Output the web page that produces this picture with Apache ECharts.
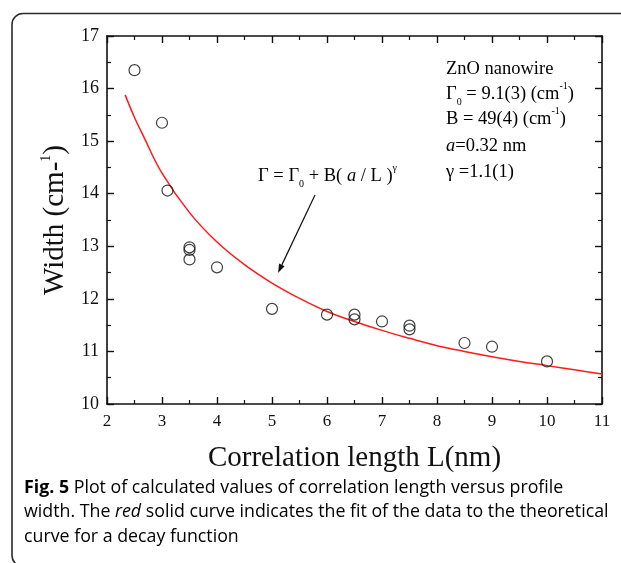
<!DOCTYPE html>
<html>
<head>
<meta charset="utf-8">
<script src="https://cdn.jsdelivr.net/npm/echarts@6/dist/echarts.min.js"></script>
<style>
  html, body { margin: 0; padding: 0; background: #fff; }
  #chart { width: 621px; height: 563px; }
</style>
</head>
<body>
<div id="chart"></div>
<script>
// Measured profile widths versus correlation length
const lengthL = [2.5, 3.0, 3.1, 3.5, 3.5, 3.5, 4.0, 5.0, 6.0, 6.5, 6.5, 7.0, 7.5, 7.5, 8.5, 9.0, 10.0];
const widthW  = [16.35, 15.35, 14.06, 12.98, 12.93, 12.75, 12.60, 11.81, 11.70, 11.70, 11.61, 11.57, 11.49, 11.42, 11.16, 11.09, 10.81];

// Fitted decay curve
const fitL = [2.33, 2.5, 2.66, 3.0, 3.5, 4.0, 4.5, 5.0, 5.5, 6.0, 6.5, 7.0, 7.5, 8.0, 8.5, 9.0, 9.5, 10.0, 10.5, 11.0];
const fitW = [15.88, 15.45, 15.10, 14.39, 13.64, 13.08, 12.65, 12.30, 12.01, 11.76, 11.57, 11.40, 11.25, 11.11, 11.00, 10.90, 10.81, 10.73, 10.65, 10.57];

const xTicks = [2, 3, 4, 5, 6, 7, 8, 9, 10, 11];
const yTicks = [10, 11, 12, 13, 14, 15, 16, 17];

const SERIF = '"Liberation Serif", "Times New Roman", serif';
const SANS = '"Open Sans", "Noto Sans", sans-serif';

const chart = echarts.init(document.getElementById('chart'), null, { renderer: 'canvas' });

const axisLine = { show: true, lineStyle: { color: '#111', width: 1.6 } };
const majorTick = { show: true, inside: true, length: 7, lineStyle: { color: '#111', width: 1.4 } };
const minorTick = { show: true, inside: true, length: 4, splitNumber: 2, lineStyle: { color: '#111', width: 1.2 } };

// serif rich-text styles for annotations (sub/superscripts)
const richBase = {
  n: { fontFamily: SERIF, fontSize: 18.5, color: '#111', lineHeight: 26, verticalAlign: 'middle' },
  i: { fontFamily: SERIF, fontSize: 18.5, fontStyle: 'italic', color: '#111', lineHeight: 26, verticalAlign: 'middle' },
  sub: { fontFamily: SERIF, fontSize: 10, color: '#111', lineHeight: 10, verticalAlign: 'bottom' },
  sup: { fontFamily: SERIF, fontSize: 10, color: '#111', lineHeight: 10, verticalAlign: 'top' }
};

function label(text, x, y) {
  return {
    type: 'text', x: x, y: y, z: 10,
    style: { text: text, rich: richBase, verticalAlign: 'middle', align: 'left' }
  };
}

// arrow from the formula toward the curve
function arrow(x1, y1, x2, y2) {
  const dx = x2 - x1, dy = y2 - y1;
  const len = Math.sqrt(dx * dx + dy * dy);
  const ux = dx / len, uy = dy / len;
  const hl = 9, hw = 3;
  const bx = x2 - ux * hl, by = y2 - uy * hl;
  return {
    type: 'group', z: 10,
    children: [
      { type: 'line', shape: { x1: x1, y1: y1, x2: bx, y2: by }, style: { stroke: '#111', lineWidth: 1.2 } },
      { type: 'polygon', shape: { points: [[x2, y2], [bx - uy * hw, by + ux * hw], [bx + uy * hw, by - ux * hw]] },
        style: { fill: '#111' } }
    ]
  };
}

const captionRich = {
  b: { fontFamily: SANS, fontSize: 17.8, fontWeight: 'bold', color: '#231f20' },
  r: { fontFamily: SANS, fontSize: 17.8, color: '#231f20' },
  it: { fontFamily: SANS, fontSize: 17.8, fontStyle: 'italic', color: '#231f20' }
};

function caption(text, y) {
  return { type: 'text', x: 24, y: y, z: 10,
    style: { text: text, rich: captionRich, verticalAlign: 'middle', align: 'left' } };
}

const option = {
  backgroundColor: '#ffffff',
  animation: false,
  grid: { left: 107, right: 19, top: 36, bottom: 159, containLabel: false },
  xAxis: [
    {
      type: 'value', min: 2, max: 11, interval: 1, position: 'bottom',
      axisLine: axisLine, axisTick: majorTick, minorTick: minorTick,
      splitLine: { show: false },
      axisLabel: { show: true, margin: 9, fontFamily: SERIF, fontSize: 17, color: '#111',
        formatter: v => (xTicks.indexOf(v) >= 0 ? String(v) : '') },
      name: 'Correlation length L(nm)', nameLocation: 'middle', nameGap: 40,
      nameTextStyle: { fontFamily: SERIF, fontSize: 29, color: '#111' }
    },
    {
      type: 'value', min: 2, max: 11, interval: 1, position: 'top',
      axisLine: axisLine, axisTick: majorTick, minorTick: minorTick,
      splitLine: { show: false }, axisLabel: { show: false }
    }
  ],
  yAxis: [
    {
      type: 'value', min: 10, max: 17, interval: 1, position: 'left',
      axisLine: axisLine, axisTick: majorTick, minorTick: minorTick,
      splitLine: { show: false },
      axisLabel: { show: true, margin: 8, fontFamily: SERIF, fontSize: 18, color: '#111',
        formatter: v => (yTicks.indexOf(v) >= 0 ? String(v) : '') },
      name: '{a|Width (cm-}{s|1}{a|)}', nameLocation: 'middle', nameGap: 36, nameRotate: 90,
      nameTextStyle: {
        rich: {
          a: { fontFamily: SERIF, fontSize: 29, color: '#111', lineHeight: 32, verticalAlign: 'middle' },
          s: { fontFamily: SERIF, fontSize: 14, color: '#111', lineHeight: 4, verticalAlign: 'top' }
        }
      }
    },
    {
      type: 'value', min: 10, max: 17, interval: 1, position: 'right',
      axisLine: axisLine, axisTick: majorTick, minorTick: minorTick,
      splitLine: { show: false }, axisLabel: { show: false }
    }
  ],
  series: [
    {
      type: 'line', name: 'fit', xAxisIndex: 0, yAxisIndex: 0,
      data: fitL.map((l, k) => [l, fitW[k]]),
      smooth: 0.4, showSymbol: false, symbol: 'none',
      lineStyle: { color: '#ff1a1a', width: 1.5 }, z: 2
    },
    {
      type: 'scatter', name: 'data', xAxisIndex: 0, yAxisIndex: 0,
      data: lengthL.map((l, k) => [l, widthW[k]]),
      symbol: 'circle', symbolSize: 11,
      itemStyle: { color: 'rgba(255,255,255,0)', borderColor: '#111', borderWidth: 1.2 }, z: 3
    }
  ],
  graphic: [
    // rounded outer frame
    { type: 'rect', z: 0, shape: { x: 12, y: 13.5, width: 800, height: 553, r: 11 },
      style: { fill: 'none', stroke: '#2b2b2b', lineWidth: 1.6 } },
    label('{n|ZnO nanowire}', 446, 69),
    label('{n|Γ}{sub|0}{n| = 9.1(3) (cm}{sup|-1}{n|)}', 446, 94),
    label('{n|B = 49(4) (cm}{sup|-1}{n|)}', 446, 119),
    label('{i|a}{n|=0.32 nm}', 446, 146),
    label('{n|γ =1.1(1)}', 446, 172),
    label('{n|Γ = Γ}{sub|0}{n| + B( }{i|a}{n| / L )}{sup|γ}', 258, 176),
    arrow(315, 195, 278, 273),
    caption('{b|Fig. 5}{r| Plot of calculated values of correlation length versus profile}', 488),
    caption('{r|width. The }{it|red}{r| solid curve indicates the fit of the data to the theoretical}', 512),
    caption('{r|curve for a decay function}', 537)
  ]
};

chart.setOption(option);
</script>
</body>
</html>
